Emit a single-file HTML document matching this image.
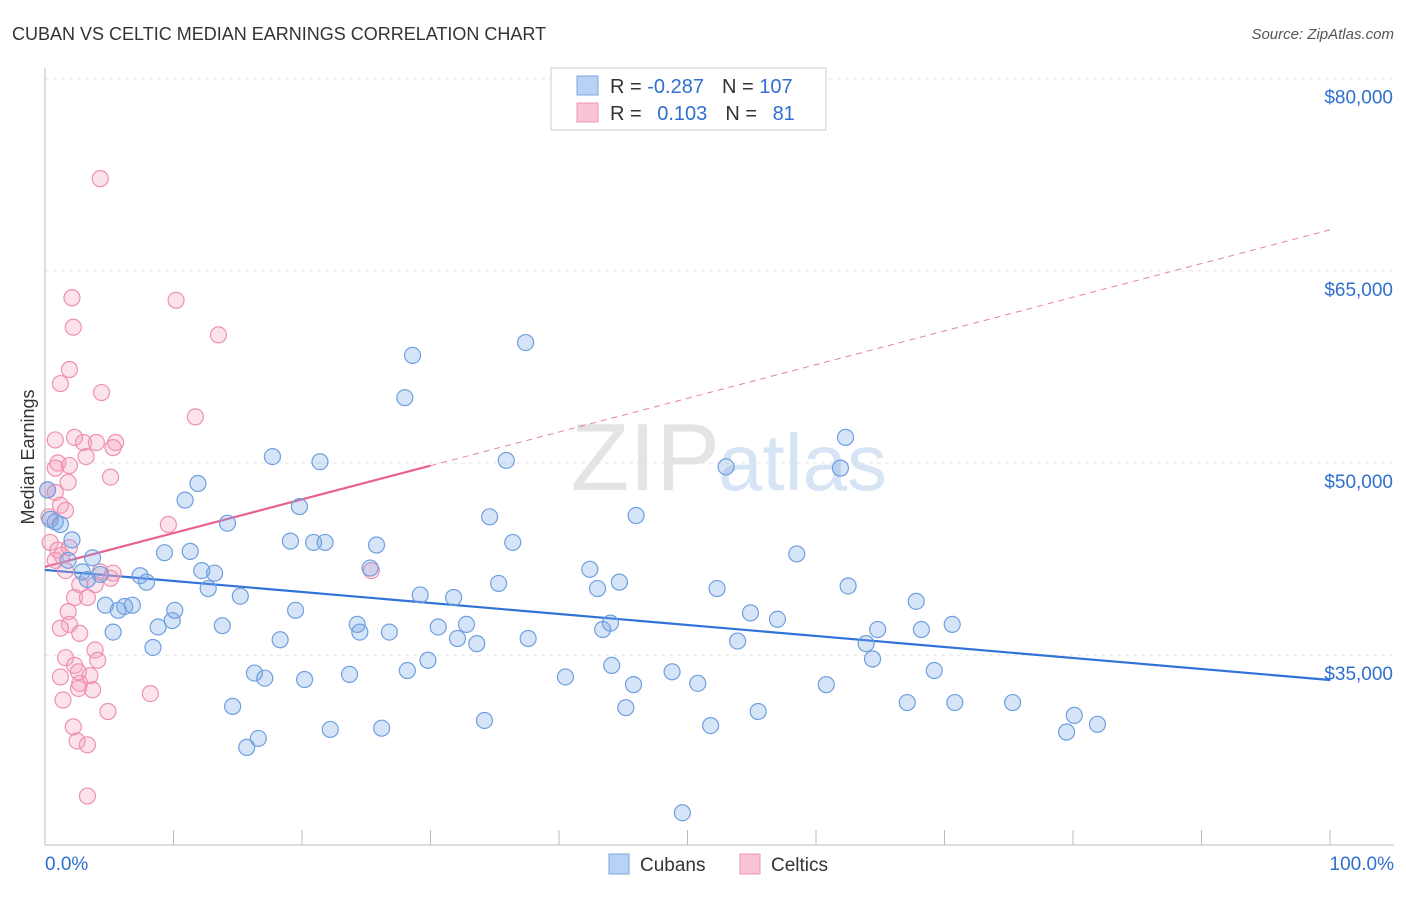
<!DOCTYPE html>
<html><head><meta charset="utf-8"><style>
body{margin:0;background:#fff;font-family:"Liberation Sans",sans-serif;}
svg text{font-family:"Liberation Sans",sans-serif;}
</style></head><body>
<svg id="chart" width="1406" height="892" viewBox="0 0 1406 892">
<text x="12" y="40" font-size="18" fill="#333">CUBAN VS CELTIC MEDIAN EARNINGS CORRELATION CHART</text>
<text x="1394" y="39" font-size="15" fill="#555" font-style="italic" text-anchor="end">Source: ZipAtlas.com</text>
<text x="720" y="490" font-size="96" fill="#e4e4e4" text-anchor="end" font-family="Liberation Serif">ZIP</text>
<text x="718" y="490" font-size="80" fill="#d6e4f5">atlas</text>
<text transform="translate(34,457) rotate(-90)" font-size="18" fill="#333" text-anchor="middle">Median Earnings</text>
<g id="grid"></g>
<g id="axes"></g>
<g id="lines"></g>
<g id="points"></g>
<g>
<rect x="551" y="68" width="275" height="62" fill="#fff" stroke="#ccc"/>
<rect x="577" y="76" width="21" height="19" fill="#b9d1f3" stroke="#7aa6e0"/>
<rect x="577" y="103" width="21" height="19" fill="#f9c4d5" stroke="#ef93b3"/>
<text x="610" y="93" font-size="20" fill="#333">R = <tspan fill="#2f6fd0">-0.287</tspan><tspan dx="18">N = </tspan><tspan fill="#2f6fd0">107</tspan></text>
<text x="610" y="120" font-size="20" fill="#333">R = <tspan dx="10" fill="#2f6fd0">0.103</tspan><tspan dx="18">N = </tspan><tspan dx="10" fill="#2f6fd0">81</tspan></text>
</g>
<g>
<rect x="609" y="854" width="20" height="20" fill="#b9d1f3" stroke="#7aa6e0"/>
<text x="640" y="871" font-size="19" fill="#333">Cubans</text>
<rect x="740" y="854" width="20" height="20" fill="#f9c4d5" stroke="#ef93b3"/>
<text x="771" y="871" font-size="19" fill="#333">Celtics</text>
</g>
</svg>
<script>
const yTicks=[80,65,50,35];
const yTickLabels=["$80,000","$65,000","$50,000","$35,000"];
const xTickLabels=["0.0%","100.0%"];
const cubanX=[0.2,0.4,0.8,1.2,2.1,1.8,2.9,3.3,3.7,4.3,4.7,5.3,5.7,6.2,6.8,7.4,7.9,8.4,8.8,9.3,9.9,10.1,10.9,11.3,11.9,12.2,12.7,13.2,13.8,14.2,14.6,15.2,15.7,16.6,16.3,17.1,17.7,18.3,19.1,19.5,19.8,20.2,20.9,21.4,21.8,22.2,23.7,24.3,24.5,25.3,25.8,26.2,26.8,28.0,28.2,28.6,29.2,29.8,30.6,31.8,32.1,32.8,33.6,34.2,34.6,35.3,35.9,36.4,37.4,37.6,40.5,42.4,43.0,43.4,44.0,44.1,44.7,45.2,45.8,46.0,48.8,49.6,50.8,51.8,52.3,53.0,53.9,54.9,55.5,57.0,58.5,60.8,62.3,61.9,62.5,63.9,64.4,64.8,67.1,67.8,68.2,69.2,70.6,70.8,75.3,79.5,80.1,81.9];
const cubanY=[47.9,45.6,45.4,45.2,44.0,42.4,41.5,40.9,42.6,41.3,38.9,36.8,38.5,38.8,38.9,41.2,40.7,35.6,37.2,43.0,37.7,38.5,47.1,43.1,48.4,41.6,40.2,41.4,37.3,45.3,31.0,39.6,27.8,28.5,33.6,33.2,50.5,36.2,43.9,38.5,46.6,33.1,43.8,50.1,43.8,29.2,33.5,37.4,36.8,41.8,43.6,29.3,36.8,55.1,33.8,58.4,39.7,34.6,37.2,39.5,36.3,37.4,35.9,29.9,45.8,40.6,50.2,43.8,59.4,36.3,33.3,41.7,40.2,37.0,37.5,34.2,40.7,30.9,32.7,45.9,33.7,22.7,32.8,29.5,40.2,49.7,36.1,38.3,30.6,37.8,42.9,32.7,52.0,49.6,40.4,35.9,34.7,37.0,31.3,39.2,37.0,33.8,37.4,31.3,31.3,29.0,30.3,29.6];
const celticX=[4.3,2.1,10.2,2.2,13.5,1.2,1.9,4.4,11.7,2.3,3.0,4.0,5.5,5.3,3.2,1.0,1.9,0.8,5.1,1.8,0.2,0.8,1.2,1.6,0.3,9.6,0.4,1.0,1.3,1.9,0.8,1.6,25.4,4.3,5.3,5.1,2.7,3.9,2.3,3.3,1.8,1.9,1.2,2.7,3.9,1.6,4.1,2.3,2.6,1.2,3.5,2.7,2.6,3.7,1.4,8.2,4.9,2.2,2.5,3.3,3.3,0.8];
const celticY=[72.2,62.9,62.7,60.6,60.0,56.2,57.3,55.5,53.6,52.0,51.6,51.6,51.6,51.2,50.5,50.0,49.8,49.6,48.9,48.5,47.9,47.7,46.7,46.3,45.8,45.2,43.8,43.2,42.8,43.4,42.4,41.6,41.6,41.5,41.4,41.0,40.5,40.5,39.5,39.5,38.4,37.4,37.1,36.7,35.4,34.8,34.6,34.2,33.7,33.3,33.4,32.8,32.4,32.3,31.5,32.0,30.6,29.4,28.3,28.0,24.0,51.8];
const cubanTrend=[41.65,33.06];
const celticTrend=[41.9,68.2];
const celticSolidEnd=30;

const NS="http://www.w3.org/2000/svg";
const xS=p=>45+p*12.85;
const yS=v=>463-(v-50)*12.81;
function mk(tag,attrs,parent){const e=document.createElementNS(NS,tag);for(const k in attrs)e.setAttribute(k,attrs[k]);document.getElementById(parent).appendChild(e);return e;}

yTicks.forEach((t,i)=>{
  const g=mk('line',{x1:45,x2:1394,y1:yS(t),y2:yS(t),stroke:'#e3e3e3','stroke-dasharray':'4,4'},'grid');
  
  
  const l=mk('text',{x:1393,y:yS(t)+25,'font-size':19,fill:'#2f6fd0','text-anchor':'end'},'axes');
  l.textContent=yTickLabels[i];
  
  
});
const ax=mk('line',{x1:45,x2:1394,y1:845,y2:845,stroke:'#bbb'},'axes');


const ay=mk('line',{x1:45,x2:45,y1:68,y2:845,stroke:'#bbb'},'axes');


for(let p=10;p<=100;p+=10){
  const t=mk('line',{x1:xS(p),x2:xS(p),y1:830,y2:845,stroke:'#bbb'},'axes');
  
  
}
[[0,'start'],[100,'end']].forEach((d,i)=>{
  const t=mk('text',{x:d[0]===0?45:1394,y:870,'font-size':19,fill:'#2f6fd0','text-anchor':d[1]},'axes');
  t.textContent=xTickLabels[i];
  
  
});

function pts(xs,ys,fill,stroke,name){
  xs.forEach((x,i)=>{
    const c=mk('circle',{cx:xS(x),cy:yS(ys[i]),r:8,fill:fill,stroke:stroke,'stroke-width':1.2},'points');
    
    
  });
}
pts(celticX,celticY,'rgba(245,160,190,0.3)','#ee90b2','celtic-point');
pts(cubanX,cubanY,'rgba(120,165,230,0.3)','#6f9fe0','cuban-point');

const bl=mk('line',{x1:xS(0),y1:yS(cubanTrend[0]),x2:xS(100),y2:yS(cubanTrend[1]),stroke:'#2f72d8','stroke-width':2.2},'lines');


const midV=celticTrend[0]+(celticTrend[1]-celticTrend[0])*celticSolidEnd/100;
const pl=mk('line',{x1:xS(0),y1:yS(celticTrend[0]),x2:xS(celticSolidEnd),y2:yS(midV),stroke:'#e8608e','stroke-width':2.2},'lines');


const pd=mk('line',{x1:xS(celticSolidEnd),y1:yS(midV),x2:xS(100),y2:yS(celticTrend[1]),stroke:'#e8809f','stroke-width':1,'stroke-dasharray':'6,5'},'lines');


</script>
</body></html>
